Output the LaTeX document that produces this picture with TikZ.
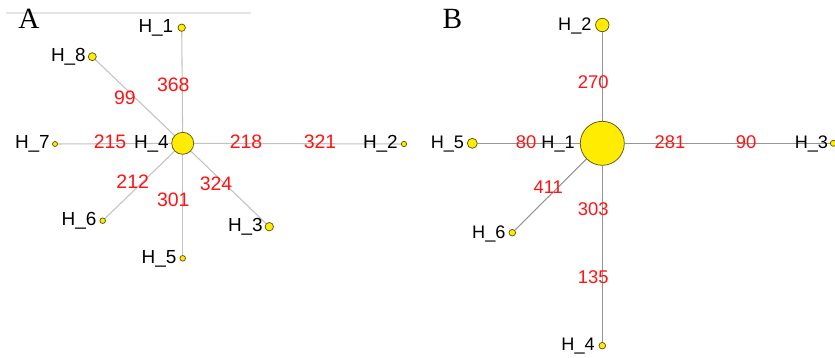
\documentclass[tikz,border=0pt]{standalone}
\usepackage{fontspec}
\setmainfont{Liberation Sans}
\newfontfamily\serifpanel{Liberation Serif}
\definecolor{hapfill}{RGB}{255,236,0}
\definecolor{hapline}{RGB}{95,85,20}
\definecolor{edgeA}{RGB}{195,195,195}
\definecolor{edgeB}{RGB}{150,150,150}
\definecolor{numred}{RGB}{255,20,20}
\definecolor{toprule}{RGB}{228,228,228}
\pgfdeclarelayer{bg}
\pgfsetlayers{bg,main}
\tikzset{
  hap/.style={circle, draw=hapline, fill=hapfill, line width=0.55pt, inner sep=0pt, minimum size=#1*0.75pt},
  hname/.style={inner sep=0pt, text height=0.72em, text depth=0pt, anchor=east, font=\fontsize{#1}{#1}\selectfont},
  hnum/.style={inner sep=0pt, text height=0.72em, text depth=0pt, anchor=center, text=numred, font=\fontsize{#1}{#1}\selectfont},
  panel/.style={inner sep=0pt, text height=0.66em, text depth=0pt, font=\fontsize{22}{22}\serifpanel},
  edgeAline/.style={draw=edgeA, line width=0.8pt},
  edgeBline/.style={draw=edgeB, line width=0.8pt}
}
\begin{document}
\begin{tikzpicture}[x=0.75pt, y=-0.75pt]
\useasboundingbox (0,0) rectangle (835,357);
\begin{pgfonlayer}{bg}
\fill[white] (0,0) rectangle (835,357);
\end{pgfonlayer}
\coordinate (ruleL) at (6,13);
\coordinate (ruleR) at (251,13);
\draw[toprule, line width=0.8pt] (ruleL) -- (ruleR);
% Panel A
\node[panel] (pA) at (29,24) {A};
\node[hap=22] (a4) at (182.7,143.3) {};
\node[hap=7.4] (a1) at (181.7,27.7) {};
\node[hap=8] (a8) at (92.3,56.7) {};
\node[hap=5] (a7) at (55,144) {};
\node[hap=5.4] (a2) at (404,144) {};
\node[hap=5.6] (a6) at (102.7,220.7) {};
\node[hap=5.6] (a5) at (182.7,258.3) {};
\node[hap=8.4] (a3) at (269.3,226.7) {};
\begin{pgfonlayer}{bg}
\draw[edgeAline] (a4) -- (a1);
\draw[edgeAline] (a4) -- (a8);
\draw[edgeAline] (a4) -- (a7);
\draw[edgeAline] (a4) -- (a2);
\draw[edgeAline] (a4) -- (a6);
\draw[edgeAline] (a4) -- (a5);
\draw[edgeAline] (a4) -- (a3);
\end{pgfonlayer}
\node[hname=14.2] (ta1) at (173.5,27.7) {H\_1};
\node[hname=14.2] (ta8) at (86,56.7) {H\_8};
\node[hname=14.2] (ta7) at (50,144) {H\_7};
\node[hname=14.2] (ta4) at (169,144) {H\_4};
\node[hname=14.2] (ta2) at (398,144) {H\_2};
\node[hname=14.2] (ta6) at (96.7,220.7) {H\_6};
\node[hname=14.2] (ta5) at (176.7,259) {H\_5};
\node[hname=14.2] (ta3) at (263,226.8) {H\_3};
\node[hnum=14.6] (n368) at (173.3,86.7) {368};
\node[hnum=14.6] (n99) at (125,100) {99};
\node[hnum=14.6] (n215) at (110,144) {215};
\node[hnum=14.6] (n218) at (246,144) {218};
\node[hnum=14.6] (n321) at (320,144) {321};
\node[hnum=14.6] (n212) at (132.7,183.3) {212};
\node[hnum=14.6] (n301) at (173.3,201.7) {301};
\node[hnum=14.6] (n324) at (216,186) {324};
% Panel B
\node[panel] (pB) at (452.5,24) {B};
\node[hap=44] (b1) at (602.3,143.3) {};
\node[hap=13.4] (b2) at (602.3,25) {};
\node[hap=10] (b5) at (472.3,143.3) {};
\node[hap=6] (b3) at (833.3,143.3) {};
\node[hap=6.6] (b6) at (512.3,232.7) {};
\node[hap=6.6] (b4) at (602.3,345.7) {};
\begin{pgfonlayer}{bg}
\draw[edgeBline] (b1) -- (b2);
\draw[edgeBline] (b1) -- (b5);
\draw[edgeBline] (b1) -- (b3);
\draw[edgeBline] (b1) -- (b6);
\draw[edgeBline] (b1) -- (b4);
\end{pgfonlayer}
\node[hname=13.6] (tb2) at (591.7,25.3) {H\_2};
\node[hname=13.6] (tb5) at (464.3,143.3) {H\_5};
\node[hname=13.6] (tb1) at (575,143.3) {H\_1};
\node[hname=13.6] (tb3) at (828.3,143.3) {H\_3};
\node[hname=13.6] (tb6) at (505.7,233.5) {H\_6};
\node[hname=13.6] (tb4) at (595,345.8) {H\_4};
\node[hnum=13.8] (n270) at (593.3,83.3) {270};
\node[hnum=13.8] (n80) at (526,143.3) {80};
\node[hnum=13.8] (n281) at (670,143.3) {281};
\node[hnum=13.8] (n90) at (746,143.3) {90};
\node[hnum=13.8] (n411) at (548.3,188.3) {411};
\node[hnum=13.8] (n303) at (593.3,210.7) {303};
\node[hnum=13.8] (n135) at (593.3,278.3) {135};
\end{tikzpicture}
\end{document}
